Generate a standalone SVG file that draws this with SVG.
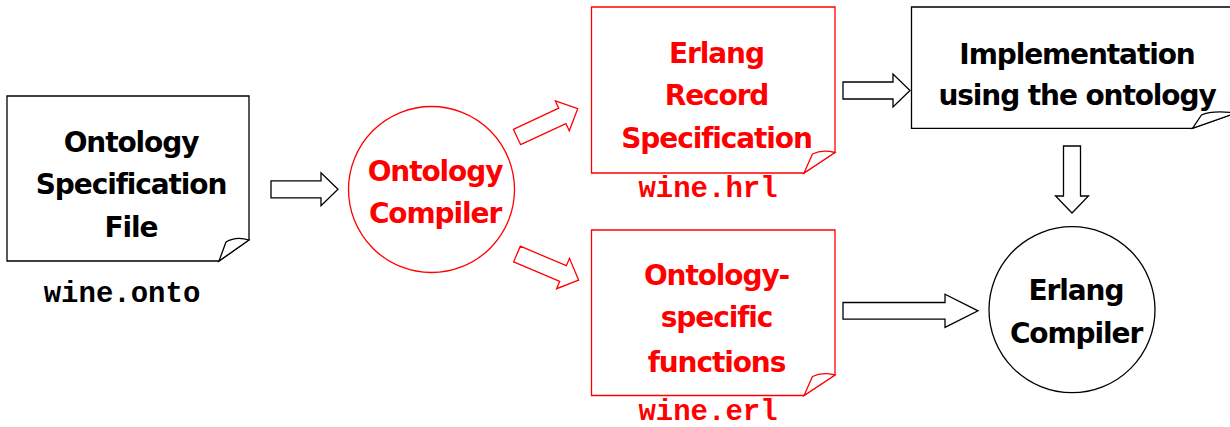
<svg xmlns="http://www.w3.org/2000/svg" width="1230" height="427" viewBox="0 0 1230 427">
  <style>
    .lbl { font-family: "DejaVu Sans", Verdana, sans-serif; font-weight: bold; font-size: 28px; letter-spacing: -1.1px; text-anchor: middle; }
    .file { font-family: "Liberation Mono", "Courier New", monospace; font-weight: bold; font-size: 29px; text-anchor: middle; }
    .blk { fill: #000; }
    .red { fill: #ff0000; }
    .shape-blk { fill: #fff; stroke: #000; stroke-width: 1.3; stroke-linejoin: miter; }
    .shape-red { fill: #fff; stroke: #ff0000; stroke-width: 1.3; stroke-linejoin: miter; }
  </style>
  <defs>
    <!-- block arrow: shaft 50, head 17 -->
    <path id="blockArrow" d="M0,-8.5 L50,-8.5 L50,-16.5 L67,0 L50,16.5 L50,8.5 L0,8.5 Z"/>
    <path id="longArrow" d="M0,-8.3 L102,-8.3 L102,-16.6 L135,0 L102,16.6 L102,8.3 L0,8.3 Z"/>
  </defs>

  <rect width="1230" height="427" fill="#fff"/>

  <!-- Ontology Specification File -->
  <g id="spec-file">
    <path class="shape-blk" d="M7,96 H249 V240 L219,261 H7 Z"/>
    <path class="shape-blk" d="M219,261 L226,242 Q236,236 249,240 Z"/>
    <text class="lbl blk" x="131" y="152">Ontology</text>
    <text class="lbl blk" x="131" y="194">Specification</text>
    <text class="lbl blk" x="131" y="236.5">File</text>
    <text class="file blk" x="122" y="301.5">wine.onto</text>
  </g>

  <!-- Ontology Compiler -->
  <g id="onto-compiler">
    <circle class="shape-red" cx="431.5" cy="189.5" r="83"/>
    <text class="lbl red" x="435" y="181">Ontology</text>
    <text class="lbl red" x="435" y="223">Compiler</text>
  </g>

  <!-- Erlang Record Specification -->
  <g id="record-spec">
    <path class="shape-red" d="M591.5,7 H835 V152.5 L804,173 H591.5 Z"/>
    <path class="shape-red" d="M804,173 L812.5,154 Q822,149 835,152.5 Z"/>
    <text class="lbl red" x="716.5" y="63">Erlang</text>
    <text class="lbl red" x="716.5" y="104.5">Record</text>
    <text class="lbl red" x="716.5" y="147.5">Specification</text>
    <text class="file red" x="708" y="197.3">wine.hrl</text>
  </g>

  <!-- Ontology-specific functions -->
  <g id="functions">
    <path class="shape-red" d="M591.5,230 H835 V375 L804,395.5 H591.5 Z"/>
    <path class="shape-red" d="M804,395.5 L812.5,376.5 Q822,371.5 835,375 Z"/>
    <text class="lbl red" x="716.5" y="285">Ontology-</text>
    <text class="lbl red" x="716.5" y="327">specific</text>
    <text class="lbl red" x="716.5" y="371.5">functions</text>
    <text class="file red" x="708" y="420">wine.erl</text>
  </g>

  <!-- Implementation using the ontology -->
  <g id="implementation">
    <path class="shape-blk" d="M911.5,7 H1236 V113 L1192.5,128.3 H911.5 Z"/>
    <path class="shape-blk" d="M1192.5,128.3 L1201.5,115 Q1212,110 1236,113 Z"/>
    <text class="lbl blk" x="1077" y="63.5">Implementation</text>
    <text class="lbl blk" x="1077" y="105">using the ontology</text>
  </g>

  <!-- Erlang Compiler -->
  <g id="erlang-compiler">
    <circle class="shape-blk" cx="1072" cy="309.7" r="83"/>
    <text class="lbl blk" x="1076" y="300">Erlang</text>
    <text class="lbl blk" x="1076" y="343">Compiler</text>
  </g>

  <!-- connectors -->
  <g id="connectors">
    <use href="#blockArrow" class="shape-blk" transform="translate(271,189.3)"/>
    <use href="#blockArrow" class="shape-red" transform="translate(517,137) rotate(-25)"/>
    <use href="#blockArrow" class="shape-red" transform="translate(517,254) rotate(23)"/>
    <use href="#blockArrow" class="shape-blk" transform="translate(843,90.5)"/>
    <use href="#longArrow" class="shape-blk" transform="translate(843,310.8)"/>
    <use href="#blockArrow" class="shape-blk" transform="translate(1072,146) rotate(90)"/>
  </g>
</svg>
